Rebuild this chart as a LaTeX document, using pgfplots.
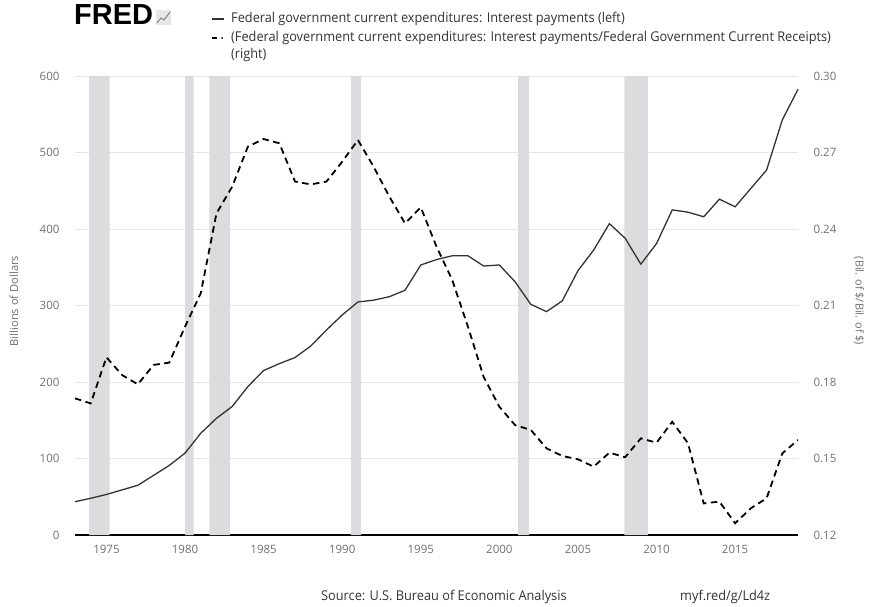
\documentclass[border=0pt]{standalone}
\usepackage{fontspec}
\setmainfont{Open Sans}
\newfontfamily\narrow[FakeStretch=0.945]{Open Sans}
\newfontfamily\fredfont{Liberation Sans}
\usepackage{pgfplots}
\pgfplotsset{compat=1.18}
\definecolor{gridc}{HTML}{E6E6E6}
\definecolor{rec}{HTML}{DCDCDE}
\definecolor{tickc}{HTML}{707070}
\definecolor{txt}{HTML}{333333}
\definecolor{linec}{HTML}{333333}

\pgfplotstableread{
year val
1973 43.5
1974 48
1975 53
1976 59
1977 65
1978 78
1979 91
1980 107
1981 133
1982 152.5
1983 168
1984 194
1985 215
1986 224
1987 232
1988 247
1989 268
1990 287.6
1991 304.6
1992 307
1993 311.5
1994 320
1995 353
1996 360
1997 365
1998 365
1999 351.6
2000 353
2001 331
2002 301.5
2003 292
2004 306
2005 345.5
2006 372.5
2007 407
2008 388
2009 354
2010 381
2011 425
2012 422
2013 416
2014 439
2015 429
2016 453
2017 477
2018 542.5
2019 582.6
}\interest

\pgfplotstableread{
year val
1973 0.1736
1974 0.1716
1975 0.1897
1976 0.1827
1977 0.1791
1978 0.1867
1979 0.1876
1980 0.2017
1981 0.2148
1982 0.2461
1983 0.2566
1984 0.2723
1985 0.2753
1986 0.2736
1987 0.2586
1988 0.2575
1989 0.2586
1990 0.2664
1991 0.2749
1992 0.2644
1993 0.2527
1994 0.2422
1995 0.2485
1996 0.2331
1997 0.2200
1998 0.2017
1999 0.1820
2000 0.1703
2001 0.1631
2002 0.1612
2003 0.1540
2004 0.1510
2005 0.1497
2006 0.1468
2007 0.1523
2008 0.1505
2009 0.1579
2010 0.1562
2011 0.1644
2012 0.1560
2013 0.1324
2014 0.1331
2015 0.1246
2016 0.1305
2017 0.1344
2018 0.1520
2019 0.1573
}\ratio

\begin{document}
\begin{tikzpicture}[x=1pt,y=1pt]
\path[use as bounding box] (0,0) rectangle (872,606);
\begin{axis}[
  at={(75pt,71pt)}, anchor=south west, scale only axis,
  width=723pt, height=459pt,
  xmin=1973, xmax=2019, ymin=0, ymax=600,
  ytick={0,100,...,600}, xtick={1975,1980,...,2015},
  x tick label style={/pgf/number format/1000 sep={}},
  axis x line*=bottom, axis y line*=left,
  x axis line style={black, line width=1.6pt, -},
  y axis line style={draw=none},
  tick style={draw=none},
  ymajorgrids, grid style={gridc, line width=0.9pt},
  ticklabel style={font=\fontsize{11.5}{13}\selectfont, color=tickc},
  yticklabel style={xshift=-12pt},
  xticklabel style={yshift=-7pt},
  /pgf/number format/assume math mode=true,
  clip=false,
]
\addplot[fill=rec, draw=none] coordinates {(1973.9,0) (1973.9,600) (1975.2,600) (1975.2,0)} \closedcycle;
\addplot[fill=rec, draw=none] coordinates {(1980.0,0) (1980.0,600) (1980.55,600) (1980.55,0)} \closedcycle;
\addplot[fill=rec, draw=none] coordinates {(1981.55,0) (1981.55,600) (1982.85,600) (1982.85,0)} \closedcycle;
\addplot[fill=rec, draw=none] coordinates {(1990.55,0) (1990.55,600) (1991.2,600) (1991.2,0)} \closedcycle;
\addplot[fill=rec, draw=none] coordinates {(2001.2,0) (2001.2,600) (2001.9,600) (2001.9,0)} \closedcycle;
\addplot[fill=rec, draw=none] coordinates {(2007.95,0) (2007.95,600) (2009.45,600) (2009.45,0)} \closedcycle;
\addplot[linec, line width=1.3pt] table[x=year, y=val] {\interest};
\end{axis}
\begin{axis}[
  at={(75pt,71pt)}, anchor=south west, scale only axis,
  width=723pt, height=459pt,
  xmin=1973, xmax=2019, ymin=0.12, ymax=0.30,
  ytick={0.12,0.15,0.18,0.21,0.24,0.27,0.30},
  axis x line=none, axis y line*=right,
  y axis line style={draw=none},
  tick style={draw=none},
  yticklabel style={font=\fontsize{11.5}{13}\selectfont, color=tickc, xshift=12pt,
    /pgf/number format/.cd, fixed, fixed zerofill, precision=2},
  /pgf/number format/assume math mode=true,
]
\addplot[black, line width=1.8pt, dash pattern=on 6.5pt off 4.5pt] table[x=year, y=val] {\ratio};
\end{axis}
% axis titles
\node[rotate=90, font=\fontsize{11.2}{13}\selectfont, text=tickc] at (14,305) {Billions of Dollars};
\node[rotate=-90, font=\fontsize{11}{13}\selectfont, text=tickc] at (859,305) {(Bil. of \$/Bil. of \$)};
% FRED logo
\node[anchor=base west, inner sep=0, font=\fredfont\bfseries\fontsize{29}{30}\selectfont, text=black] at (74,581) {FRED};
\fill[gridc] (156,581) rectangle (171,596);
\draw[tickc, line width=0.8pt] (157,583) -- (161,588) -- (164,586) -- (170,594);
% legend
\draw[linec, line width=1.3pt] (212,587) -- (224,587);
\node[anchor=west, inner sep=0, font=\narrow\fontsize{13.5}{15}\selectfont, text=txt] at (231,587) {Federal government current expenditures: Interest payments (left)};
\draw[black, line width=1.8pt] (212,568) -- (217,568);
\fill[black] (222,568) circle (1pt);
\node[anchor=west, inner sep=0, font=\narrow\fontsize{13.5}{15}\selectfont, text=txt] at (231,568) {(Federal government current expenditures: Interest payments/Federal Government Current Receipts)};
\node[anchor=west, inner sep=0, font=\narrow\fontsize{13.5}{15}\selectfont, text=txt] at (231,551) {(right)};
% source
\node[anchor=west, inner sep=0, font=\narrow\fontsize{13.5}{15}\selectfont, text=txt] at (321,9) {Source: U.S. Bureau of Economic Analysis};
\node[anchor=west, inner sep=0, font=\narrow\fontsize{13.5}{15}\selectfont, text=txt] at (680,9) {myf.red/g/Ld4z};
\end{tikzpicture}
\end{document}
